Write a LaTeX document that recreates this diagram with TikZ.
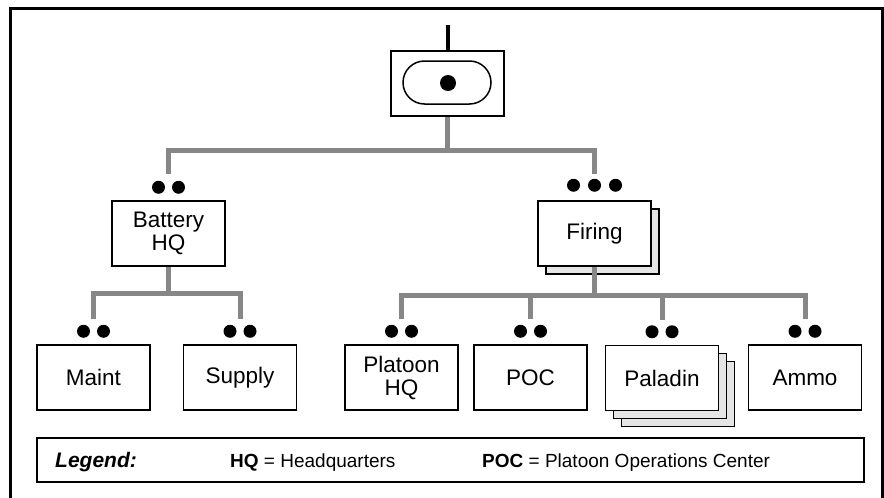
\documentclass[tikz,border=0pt]{standalone}
\usepackage{fontspec}
\setmainfont{Liberation Sans}
\usetikzlibrary{shapes.misc,shadows}

\tikzset{
  unit/.style={draw,line width=1.5pt,fill=white,inner sep=0pt,
    minimum width=113pt,minimum height=65pt,align=center,
    font=\fontsize{22.5}{23}\selectfont},
  stack/.style={copy shadow={shadow xshift=8pt,shadow yshift=-8pt,
    fill=black!10,draw=black,line width=1.5pt}},
  stacktwo/.style={double copy shadow={shadow xshift=8pt,shadow yshift=-8pt,
    fill=black!10,draw=black,line width=1.5pt}},
  dot/.style={circle,fill=black,inner sep=0pt,minimum size=13pt},
  link/.style={draw=black!47,line width=5pt},
  legendtext/.style={anchor=base west,inner sep=0pt,font=\fontsize{19}{19}\selectfont},
}

\begin{document}
\begin{tikzpicture}[x=1pt,y=-1pt]
  \useasboundingbox (0,0) rectangle (884,498);
  % frame
  \draw[line width=3pt] (10,510) -- (10,8) -- (882,8) -- (882,510);

  % battery commander
  \node[unit] (cmd) at (447.5,83.5) {};
  \node[draw,line width=1.5pt,rounded rectangle,inner sep=0pt,
    minimum width=88pt,minimum height=43pt] (cmd-oval) at (447,82.5) {};
  \node[circle,fill=black,inner sep=0pt,minimum size=16pt] (cmd-dot) at (448,83) {};
  \draw[line width=4pt] (cmd.north) -- ++(0,-25);

  % second level
  \node[unit] (bhq) at (168.5,233.5) {Battery\\HQ};
  \node[unit,stack] (firing) at (594.5,233.5) {Firing};
  \node[dot] (bhq-l) at ([shift={(-10pt,13pt)}]bhq.north) {};
  \node[dot] (bhq-r) at ([shift={(10pt,13pt)}]bhq.north) {};
  \node[dot] (firing-l) at ([shift={(-21pt,15pt)}]firing.north) {};
  \node[dot] (firing-m) at ([shift={(0pt,15pt)}]firing.north) {};
  \node[dot] (firing-r) at ([shift={(21pt,15pt)}]firing.north) {};

  % third level
  \node[unit] (maint) at (93.5,377.5) {Maint};
  \node[unit] (supply) at (240,377.5) {Supply};
  \node[unit] (phq) at (401.5,377.5) {Platoon\\HQ};
  \node[unit] (poc) at (530.5,377.5) {POC};
  \node[unit,stacktwo] (paladin) at (662,378) {Paladin};
  \node[unit] (ammo) at (805,377.5) {Ammo};
  \node[dot] (maint-l) at ([shift={(-10pt,13pt)}]maint.north) {};
  \node[dot] (maint-r) at ([shift={(10pt,13pt)}]maint.north) {};
  \node[dot] (supply-l) at ([shift={(-10pt,13pt)}]supply.north) {};
  \node[dot] (supply-r) at ([shift={(10pt,13pt)}]supply.north) {};
  \node[dot] (phq-l) at ([shift={(-10pt,13pt)}]phq.north) {};
  \node[dot] (phq-r) at ([shift={(10pt,13pt)}]phq.north) {};
  \node[dot] (poc-l) at ([shift={(-10pt,13pt)}]poc.north) {};
  \node[dot] (poc-r) at ([shift={(10pt,13pt)}]poc.north) {};
  \node[dot] (paladin-l) at ([shift={(-10pt,13pt)}]paladin.north) {};
  \node[dot] (paladin-r) at ([shift={(10pt,13pt)}]paladin.north) {};
  \node[dot] (ammo-l) at ([shift={(-10pt,13pt)}]ammo.north) {};
  \node[dot] (ammo-r) at ([shift={(10pt,13pt)}]ammo.north) {};

  % line ends above the dots, and the buses
  \coordinate (bhq-in) at ([yshift=26pt]bhq.north);
  \coordinate (firing-in) at ([yshift=26pt]firing.north);
  \coordinate (maint-in) at ([yshift=25pt]maint.north);
  \coordinate (supply-in) at ([yshift=25pt]supply.north);
  \coordinate (phq-in) at ([yshift=25pt]phq.north);
  \coordinate (poc-in) at ([yshift=25pt]poc.north);
  \coordinate (paladin-in) at ([yshift=25pt]paladin.north);
  \coordinate (ammo-in) at ([yshift=25pt]ammo.north);
  \coordinate (cmd-bus) at ([yshift=-34pt]cmd.south);
  \coordinate (bhq-bus) at ([yshift=-27pt]bhq.south);
  \coordinate (firing-bus) at ([yshift=-29pt]firing.south);

  \draw[link] (cmd.south) -- (cmd-bus);
  \draw[link] (bhq-in) |- (cmd-bus) -| (firing-in);
  \draw[link] (bhq.south) -- (bhq-bus);
  \draw[link] (maint-in) |- (bhq-bus) -| (supply-in);
  \draw[link] (firing.south) -- (firing-bus);
  \draw[link] (phq-in) |- (firing-bus) -| (ammo-in);
  \draw[link] (poc-in) -- (poc-in |- firing-bus);
  \draw[link] (paladin-in) -- (paladin-in |- firing-bus);

  % legend
  \node[draw,line width=1.5pt,inner sep=0pt,minimum width=827pt,
    minimum height=44pt] (legend) at (450.5,460) {};
  \node[legendtext,font=\fontsize{21}{21}\selectfont] (legend-title) at (55,467) {\textbf{\textit{Legend:}}};
  \node[legendtext] (legend-hq) at (230,467) {\textbf{HQ} = Headquarters};
  \node[legendtext] (legend-poc) at (482,467) {\textbf{POC} = Platoon Operations Center};
\end{tikzpicture}
\end{document}
